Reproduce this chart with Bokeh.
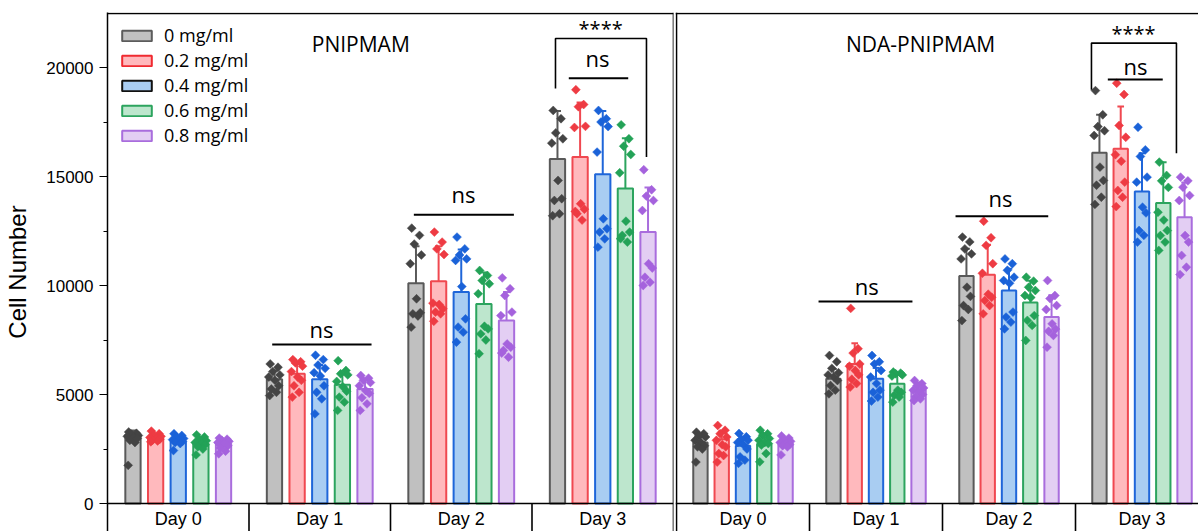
from bokeh.plotting import figure
from bokeh.models import ColumnDataSource, FixedTicker, Span, Legend, LegendItem
from bokeh.layouts import row
from bokeh.embed import file_html
from bokeh.resources import INLINE
from bokeh.core.properties import value

# ---------------- data ----------------
DAYS = ["Day 0", "Day 1", "Day 2", "Day 3"]
CONCS = ["0 mg/ml", "0.2 mg/ml", "0.4 mg/ml", "0.6 mg/ml", "0.8 mg/ml"]
Y_TICKS = [0, 5000, 10000, 15000, 20000]
Y_MINOR = [2500, 7500, 12500, 17500]
TITLES = ["PNIPMAM", "NDA-PNIPMAM"]

# mean per concentration, over Day 0..3
PN_MEAN = [[3150, 5700, 10100, 15800],
           [3000, 5950, 10200, 15900],
           [2850, 5700, 9700, 15100],
           [2750, 5450, 9150, 14450],
           [2750, 5250, 8400, 12450]]
PN_SD = [[200, 400, 1700, 2200],
         [150, 450, 1600, 2500],
         [200, 650, 1950, 2900],
         [220, 500, 1450, 2300],
         [180, 400, 1300, 2050]]
NDA_MEAN = [[2800, 5720, 10440, 16090],
            [2950, 6400, 10490, 16270],
            [2650, 5720, 9770, 14310],
            [2740, 5490, 9220, 13790],
            [2770, 5210, 8550, 13130]]
NDA_SD = [[250, 450, 1250, 1740],
          [350, 950, 1380, 1940],
          [300, 500, 1000, 1760],
          [300, 450, 1000, 1860],
          [200, 350, 1000, 1600]]

# individual replicates: [day][concentration] -> values
PN_PTS = [
    [[3280, 3220, 3180, 3120, 3080, 3030, 2980, 2900, 2800, 1750],
     [3320, 3200, 3150, 3080, 3030, 2980, 2950, 2900, 2870, 2830],
     [3200, 3120, 3050, 2980, 2930, 2880, 2850, 2800, 2750, 2430],
     [3150, 3050, 2950, 2880, 2800, 2750, 2700, 2600, 2500, 2230],
     [3000, 2950, 2900, 2850, 2800, 2750, 2650, 2550, 2400, 2280]],
    [[6400, 6250, 6050, 5900, 5800, 5650, 5400, 5250, 5100, 4950],
     [6600, 6500, 6450, 6300, 6050, 5800, 5650, 5400, 5100, 4880],
     [6800, 6600, 6350, 6200, 6000, 5850, 5400, 5100, 4800, 4110],
     [6550, 6100, 5950, 5900, 5600, 5350, 5150, 4880, 4650, 4270],
     [5870, 5750, 5650, 5550, 5400, 5180, 5050, 4850, 4570, 4270]],
    [[12630, 12300, 11900, 11400, 11000, 9390, 8750, 8700, 8600, 8090],
     [12450, 11990, 11680, 11420, 9190, 9130, 8930, 8780, 8700, 8360],
     [12220, 11680, 11400, 11220, 11150, 9950, 8470, 8090, 7860, 7400],
     [10690, 10460, 10230, 10080, 9620, 8130, 8010, 7780, 7500, 6870],
     [10350, 9850, 9540, 8780, 8620, 7320, 7170, 7020, 6710, 6900]],
    [[18030, 17650, 17000, 16730, 16530, 14820, 13980, 13900, 13290, 13200],
     [18980, 18300, 18200, 17300, 17250, 13750, 13500, 13290, 13000, 13400],
     [18030, 17650, 17500, 17290, 16120, 13060, 12600, 12450, 12140, 11760],
     [17370, 16730, 16390, 16010, 15170, 12950, 12450, 12300, 11990, 12150],
     [15310, 14390, 14100, 13900, 13440, 11000, 10800, 10380, 10150, 10000]],
]
NDA_PTS = [
    [[3270, 3200, 3100, 3050, 2900, 2800, 2650, 2600, 2500, 1900],
     [3580, 3360, 3200, 3050, 2900, 2700, 2600, 2290, 2200, 1900],
     [3210, 3060, 2950, 2900, 2800, 2700, 2500, 2140, 1990, 1840],
     [3360, 3200, 3130, 2980, 2900, 2800, 2750, 2680, 2290, 1910],
     [3100, 3000, 2950, 2850, 2800, 2750, 2700, 2650, 2600, 2230]],
    [[6790, 6500, 6200, 6000, 5900, 5800, 5640, 5410, 5200, 5030],
     [8950, 7100, 6900, 6400, 6300, 6100, 5900, 5700, 5500, 5340],
     [6790, 6500, 6400, 6100, 5800, 5500, 5200, 5100, 4880, 4700],
     [6030, 5980, 5950, 5900, 5850, 5200, 5100, 4970, 4880, 4650],
     [5640, 5500, 5400, 5300, 5200, 5110, 5000, 4900, 4800, 4720]],
    [[12220, 12000, 11680, 11450, 11220, 9920, 9500, 9080, 8900, 8390],
     [12950, 12190, 11840, 11000, 10560, 9600, 9460, 9310, 9080, 8700],
     [11220, 11000, 10700, 10380, 10230, 10100, 8780, 8550, 8320, 8010],
     [10380, 10200, 9920, 9770, 9540, 9450, 8620, 8400, 8170, 7480],
     [10230, 9540, 9400, 9080, 8900, 8240, 8000, 7900, 7710, 7170]],
    [[18940, 17830, 17290, 17100, 16880, 15430, 14820, 14600, 14050, 13720],
     [19280, 18760, 17340, 16800, 16000, 15700, 14740, 14360, 14050, 13620],
     [17260, 16220, 15920, 14970, 14740, 13590, 13330, 12520, 12300, 11990],
     [15660, 15050, 14800, 14500, 13360, 13000, 12520, 12290, 11990, 11610],
     [14970, 14800, 14510, 14130, 13900, 12290, 11990, 11380, 10840, 10500]],
]

# significance annotations (group positions in day units, values in cells)
PN_NS_X0 = [1.164, 2.165, 3.26]
PN_NS_X1 = [1.866, 2.872, 3.68]
PN_NS_Y = [7290, 13240, 19510]
PN_NS_TX = [1.512, 2.516, 3.463]
PN_NS_TY = [7990, 14180, 20420]
PN_BR = dict(x0=3.166, x1=3.809, top=21330, left=19040, right=15890, tx=3.485, ty=21790)

NDA_NS_X0 = [1.068, 2.098, 3.243]
NDA_NS_X1 = [1.774, 2.795, 3.656]
NDA_NS_Y = [9270, 13180, 19450]
NDA_NS_TX = [1.43, 2.436, 3.451]
NDA_NS_TY = [9960, 14000, 20050]
NDA_BR = dict(x0=3.12, x1=3.759, top=21120, left=18980, right=16070, tx=3.436, ty=21560)

# ---------------- style ----------------
FILL = ["#c0c0c0", "#ffb9bd", "#a9cdf2", "#bde6cd", "#e3cef3"]
LINE = ["#595959", "#f04850", "#1f66d9", "#2ca45e", "#a96ddd"]
DOT = ["#444444", "#ee3b43", "#1a62d8", "#23a257", "#a562dd"]
LEGEND_LINE = ["#5c5c5c", "#f02a30", "#111111", "#2ca45e", "#a96ddd"]
JITTER = [-0.030, 0.025, -0.012, 0.038, -0.040, 0.004, 0.030, -0.022, 0.014, -0.034]
OFFSETS = [-0.32, -0.16, 0.0, 0.16, 0.32]
BAR_W = 0.108
CAP_W = 0.05
UNITS_PER_PX = 5000 / 109.0
Y_BOTTOM = -28 * UNITS_PER_PX
FRAME_H = 519
Y_TOP = Y_BOTTOM + FRAME_H * UNITS_PER_PX
TOP_LINE = 490 * UNITS_PER_PX
AXIS_FONT = value("Liberation Sans")
TEXT_FONT = value("Open Sans")


def panel(means, sds, pts, ns, br, title, title_x, width, left_border, x_start, px_per_unit, show_axis):
    frame_w = width - left_border - (2 if show_axis else 0)
    p = figure(width=width, height=531, output_backend="svg", toolbar_location=None,
               x_range=(x_start, x_start + frame_w / px_per_unit), y_range=(Y_BOTTOM, Y_TOP),
               min_border_left=left_border, min_border_right=(2 if show_axis else 0),
               min_border_top=12, min_border_bottom=0, title=None,
               x_axis_location=None, y_axis_location=("left" if show_axis else None))
    p.xgrid.visible = False
    p.ygrid.visible = False
    p.outline_line_color = None
    p.background_fill_color = "white"

    if show_axis:
        ax = p.yaxis[0]
        ax.ticker = FixedTicker(ticks=Y_TICKS, minor_ticks=Y_MINOR)
        ax.axis_label = "Cell Number"
        ax.axis_label_text_font = "Liberation Sans"
        ax.axis_label_text_font_style = "normal"
        ax.axis_label_text_font_size = "24px"
        ax.axis_label_text_color = "black"
        ax.axis_label_standoff = 12
        ax.major_label_text_font = "Liberation Sans"
        ax.major_label_text_font_size = "17px"
        ax.major_label_text_color = "black"
        ax.major_label_standoff = 6
        ax.major_tick_out = 8
        ax.major_tick_in = 0
        ax.minor_tick_out = 4
        ax.minor_tick_in = 0
        ax.axis_line_width = 1.5
        ax.major_tick_line_width = 1.2
        ax.minor_tick_line_width = 1.2
        ax.axis_line_color = "black"
        ax.major_tick_line_color = "black"
        ax.minor_tick_line_color = "black"
        p.add_layout(Span(location=4, dimension="height", line_color="black", line_width=1.6))
    else:
        p.add_layout(Span(location=0, dimension="height", line_color="black", line_width=1.6))

    p.add_layout(Span(location=TOP_LINE, dimension="width", line_color="black", line_width=1.6))
    p.add_layout(Span(location=0, dimension="width", line_color="black", line_width=1.6))
    # category separators in the label row
    p.segment(x0=[1, 2, 3], y0=[0, 0, 0], x1=[1, 2, 3], y1=[Y_BOTTOM - 500] * 3,
              line_color="black", line_width=1.6)
    p.text(x=[d + 0.5 for d in range(4)], y=[-15 * UNITS_PER_PX] * 4, text=DAYS,
           text_align="center", text_baseline="middle", text_font=AXIS_FONT,
           text_font_size="18px", text_color="black")

    for k in range(5):
        xs = [d + 0.5 + OFFSETS[k] for d in range(4)]
        tops = means[k]
        errs = [m + s for m, s in zip(means[k], sds[k])]
        p.vbar(x=xs, top=tops, bottom=0, width=BAR_W, fill_color=FILL[k],
               line_color=LINE[k], line_width=2)
        p.segment(x0=xs, y0=tops, x1=xs, y1=errs, line_color=LINE[k], line_width=2)
        p.segment(x0=[x - CAP_W / 2 for x in xs], y0=errs, x1=[x + CAP_W / 2 for x in xs], y1=errs,
                  line_color=LINE[k], line_width=2)
    for k in range(5):
        px, py = [], []
        for d in range(4):
            for i, v in enumerate(pts[d][k]):
                px.append(d + 0.5 + OFFSETS[k] + JITTER[i % len(JITTER)])
                py.append(v)
        p.scatter(x=px, y=py, marker="square", angle=0.785398, size=6.3,
                  fill_color=DOT[k], line_color=DOT[k], line_width=0.5)

    x0s, x1s, ys, txs, tys = ns
    p.segment(x0=x0s, y0=ys, x1=x1s, y1=ys, line_color="black", line_width=2)
    p.text(x=txs, y=tys, text=["ns"] * len(txs), text_align="center", text_baseline="middle",
           text_font=TEXT_FONT, text_font_size="22px", text_color="black")
    p.multi_line(xs=[[br["x0"], br["x0"], br["x1"], br["x1"]]],
                 ys=[[br["left"], br["top"], br["top"], br["right"]]],
                 line_color="black", line_width=1.6)
    p.text(x=[br["tx"]], y=[br["ty"]], text=["****"], text_align="center", text_baseline="middle",
           text_font=TEXT_FONT, text_font_size="20px", text_color="black")
    p.text(x=[title_x], y=[460 * UNITS_PER_PX], text=[title], text_align="center",
           text_baseline="middle", text_font=TEXT_FONT, text_font_size="21px", text_color="black")
    return p


left = panel(PN_MEAN, PN_SD, PN_PTS, (PN_NS_X0, PN_NS_X1, PN_NS_Y, PN_NS_TX, PN_NS_TY), PN_BR,
             TITLES[0], 1.79, 675, 107, 0.0, 141.5, True)
right = panel(NDA_MEAN, NDA_SD, NDA_PTS, (NDA_NS_X0, NDA_NS_X1, NDA_NS_Y, NDA_NS_TX, NDA_NS_TY), NDA_BR,
              TITLES[1], 1.835, 523, 0, -1 / 133.0, 133.0, False)

items = []
for k in range(5):
    src = ColumnDataSource(data=dict(x=[-10.0], top=[0.0]))
    r = left.vbar(x="x", top="top", width=0.1, source=src, fill_color=FILL[k],
                  line_color=LEGEND_LINE[k], line_width=2)
    items.append(LegendItem(label=CONCS[k], renderers=[r]))
legend = Legend(items=items, location="top_left", margin=11, padding=0, spacing=1,
                glyph_width=37, glyph_height=13, label_height=20, label_standoff=9,
                label_text_font="Open Sans", label_text_font_size="18px",
                label_text_color="black",
                border_line_color=None, background_fill_alpha=0)
left.add_layout(legend)

layout = row(left, right, spacing=0)
open("out.html", "w").write(file_html(layout, INLINE))
